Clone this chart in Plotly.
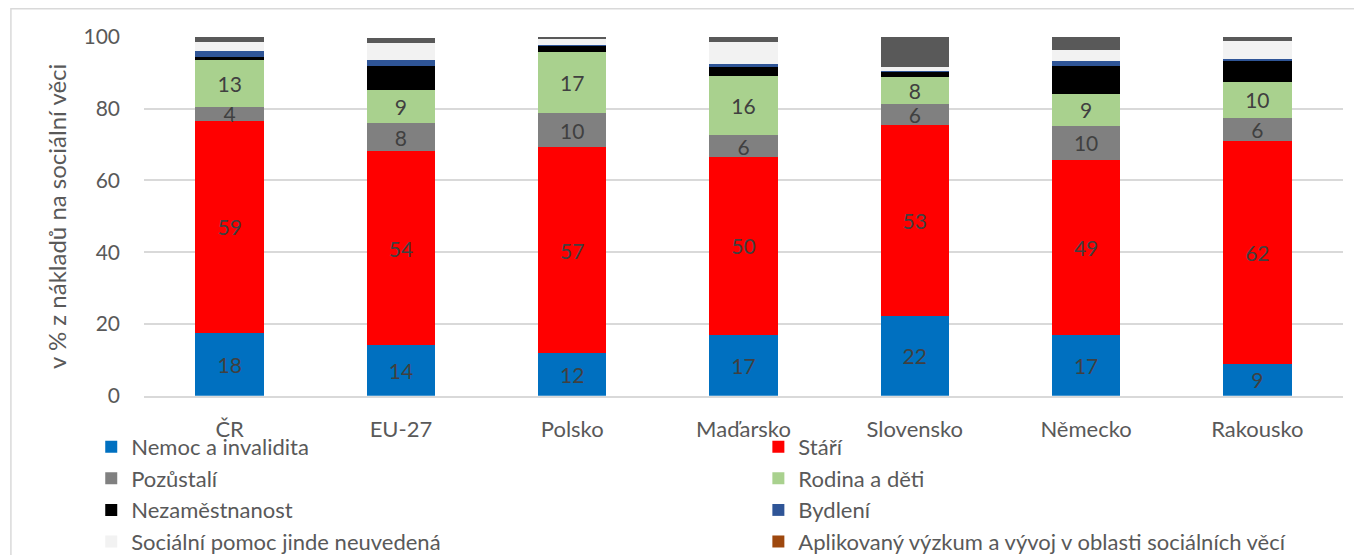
import plotly.graph_objects as go

# zeme a podily vydaju (v % z nakladu na socialni veci)
zeme = ["ČR", "EU-27", "Polsko", "Maďarsko", "Slovensko", "Německo", "Rakousko"]

nemoc = [17.6, 14.0, 11.9, 17.0, 22.2, 16.8, 8.9]
stari = [58.9, 54.1, 57.3, 49.6, 53.4, 48.8, 62.2]
pozustali = [4.1, 7.8, 9.5, 6.0, 5.6, 9.7, 6.4]
rodina = [12.9, 9.4, 17.1, 16.4, 7.6, 8.8, 9.9]
nezamestnanost = [0.8, 6.6, 1.8, 2.5, 1.5, 7.7, 6.0]
bydleni = [1.7, 1.6, 0.2, 0.9, 0.1, 1.5, 0.5]
soc_pomoc = [2.5, 4.9, 1.6, 6.2, 1.3, 3.2, 5.0]
vyzkum = [0.0, 0.0, 0.0, 0.0, 0.0, 0.0, 0.0]
jinde = [1.5, 1.4, 0.6, 1.4, 8.4, 3.5, 1.0]

serie = [
    ("Nemoc a invalidita", nemoc, "#0070C0", True),
    ("Stáří", stari, "#FF0000", True),
    ("Pozůstalí", pozustali, "#808080", True),
    ("Rodina a děti", rodina, "#A9D18E", True),
    ("Nezaměstnanost", nezamestnanost, "#000000", False),
    ("Bydlení", bydleni, "#2F5597", False),
    ("Sociální pomoc jinde neuvedená", soc_pomoc, "#F2F2F2", False),
    ("Aplikovaný výzkum a vývoj v oblasti sociálních věcí", vyzkum, "#9E480E", False),
    ("Sociální věci jinde neuvedené", jinde, "#595959", False),
]

FONT = "Lato"
fig = go.Figure()
for i, (jmeno, hodnoty, barva, popisky) in enumerate(serie):
    fig.add_trace(go.Bar(
        x=zeme, y=hodnoty, name=jmeno,
        marker=dict(color=barva, line=dict(width=0)),
        texttemplate="%{y:.0f}" if popisky else None,
        textposition="inside" if popisky else "none",
        insidetextanchor="middle", textangle=0,
        textfont=dict(family=FONT, size=21, color="#404040"),
        legend="legend" if i % 2 == 0 else "legend2",
        legendgroup="g%d" % i,
        showlegend=i < 8,
    ))

leg = dict(orientation="v", xref="paper", yref="paper", yanchor="top",
           bgcolor="rgba(0,0,0,0)", tracegroupgap=1, traceorder="normal",
           font=dict(family=FONT, size=22, color="#595959"), itemwidth=30)

fig.update_layout(
    width=1362, height=555,
    barmode="stack", bargap=0.6,
    plot_bgcolor="white", paper_bgcolor="white",
    margin=dict(l=136, r=27, t=29, b=0),
    font=dict(family=FONT, size=21, color="#595959"),
    uniformtext=dict(minsize=21, mode="show"),
    yaxis=dict(range=[0, 100], dtick=20, domain=[0.3129, 1], automargin=False,
               showgrid=True, gridcolor="#d9d9d9", gridwidth=1.5,
               zeroline=False, ticklabelstandoff=23,
               tickfont=dict(size=21),
               title=dict(text="v % z nákladů na sociální věci", standoff=10,
                          font=dict(size=24, color="#595959"))),
    xaxis=dict(showline=True, linecolor="#d9d9d9", linewidth=1.5, automargin=False,
               ticks="", ticklabelstandoff=13, tickfont=dict(size=22)),
    legend=dict(leg, x=-0.044, y=0.255),
    legend2=dict(leg, x=0.5124, y=0.255),
    shapes=[dict(type="rect", xref="paper", yref="paper",
                 x0=-0.111, x1=1.2, y0=-0.2, y1=1.054,
                 line=dict(color="#d9d9d9", width=1.5))],
)

fig.write_html("out.html")
